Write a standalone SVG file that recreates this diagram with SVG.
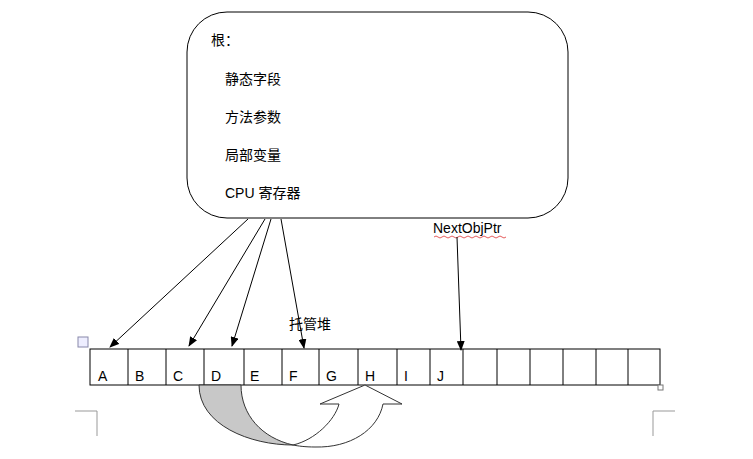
<svg xmlns="http://www.w3.org/2000/svg" width="753" height="459" viewBox="0 0 753 459">
<style>
text{font-family:"Liberation Sans","Noto Sans CJK SC",sans-serif;font-size:14px;fill:#000}
.c{fill:#fff;stroke:#000;stroke-width:1}
.ln{stroke:#000;stroke-width:1;fill:none}
.g{stroke:#999;stroke-width:1;fill:none}
</style>
<defs><marker id="ah" markerWidth="10" markerHeight="8" refX="9" refY="4" orient="auto" markerUnits="userSpaceOnUse"><path d="M0,0 L10,4 L0,8 Z" fill="#000"/></marker></defs>
<rect width="753" height="459" fill="#fff"/>
<g id="root">
<rect x="187" y="12" width="381" height="206" rx="40" class="c"/>
<text x="211" y="45">根：</text>
<text x="225" y="84">静态字段</text>
<text x="225" y="122">方法参数</text>
<text x="225" y="160">局部变量</text>
<text x="225" y="198">CPU 寄存器</text>
</g>
<g id="heap">
<text x="289" y="329">托管堆</text>
<rect x="90" y="349" width="570" height="36" class="c"/>
<path class="ln" d="M128,349V385M166,349V385M204,349V385M244,349V385M282,349V385M319,349V385M358,349V385M397,349V385M430,349V385M463,349V385M497,349V385M530,349V385M563,349V385M596,349V385M628,349V385"/>
<text x="98" y="381">A</text><text x="135" y="381">B</text><text x="173" y="381">C</text><text x="211" y="381">D</text><text x="250" y="381">E</text><text x="289" y="381">F</text><text x="326" y="381">G</text><text x="365" y="381">H</text><text x="404" y="381">I</text><text x="437" y="381">J</text>
<rect x="658" y="385" width="5" height="5" fill="#fff" stroke="#777"/>
<rect x="78" y="337" width="10" height="10" fill="#eef" stroke="#88a"/>
</g>
<g id="ptr">
<text x="433" y="233">NextObjPtr</text>
<path d="M434,237 q2,-2 4,0 t4,0 t4,0 t4,0 t4,0 t4,0 t4,0 t4,0 t4,0 t4,0 t4,0 t4,0 t4,0 t4,0 t4,0 t4,0 t4,0 t4,0" fill="none" stroke="#d33" stroke-width="0.8"/>
</g>
<g id="connectors">
<line x1="248" y1="219" x2="110" y2="347" class="ln" marker-end="url(#ah)"/>
<line x1="265" y1="219" x2="189" y2="346" class="ln" marker-end="url(#ah)"/>
<line x1="271" y1="219" x2="232" y2="346" class="ln" marker-end="url(#ah)"/>
<line x1="281" y1="219" x2="304" y2="348" class="ln" marker-end="url(#ah)"/>
<line x1="457" y1="237" x2="461" y2="350" class="ln" marker-end="url(#ah)"/>
</g>
<g id="move">
<path d="M199,385 L241,385 C241,415 262,438 293,445 C250,445 199,425 199,385 Z" fill="#c8c8c8" stroke="#333"/>
<path d="M293,445 C315,440 335,420 339,404 L320,404 L365,385 L402,404 L383,404 C378,430 350,448 315,447 C305,447 298,446 293,445 Z" fill="#fff" stroke="#333"/>
</g>
<path class="g" d="M75,411H97V436M675,411H653V436"/>
</svg>
